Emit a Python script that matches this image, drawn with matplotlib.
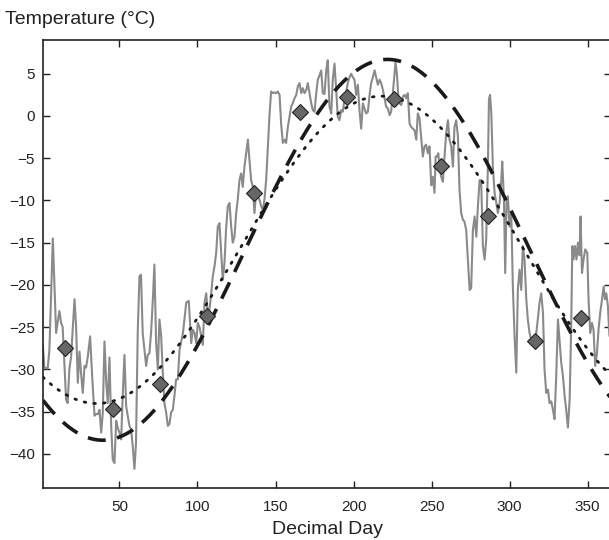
import numpy as np
import matplotlib
matplotlib.use("Agg")
import matplotlib.pyplot as plt

plt.rcParams['font.family'] = ['Liberation Sans', 'DejaVu Sans']

# Daily temperature
daily = [
(0.9,-27.1),(1.9,-29.8),(4.0,-29.9),(5.1,-27.7),(7.3,-14.5),(9.4,-25.7),(11.5,-23.1),(12.6,-24.5),
(13.6,-25.0),(15.8,-33.6),(16.8,-34.0),(17.9,-30.0),(19.0,-28.5),(21.2,-21.7),(22.2,-24.9),(23.3,-31.6),
(24.4,-27.9),(25.4,-30.5),(26.5,-32.8),(27.6,-29.6),(28.6,-29.8),(29.7,-28.5),(31.2,-26.1),(32.5,-30.8),
(34.0,-35.5),(35.1,-35.3),(36.2,-35.3),(37.2,-34.8),(38.3,-37.5),(39.3,-35.2),(40.4,-26.7),(41.5,-31.5),
(42.5,-34.0),(43.6,-28.6),(44.7,-36.7),(45.7,-40.7),(46.8,-41.1),(47.9,-36.1),(49.0,-37.0),(50.0,-37.5),
(51.1,-38.3),(52.1,-33.0),(53.2,-28.3),(54.3,-34.4),(55.3,-35.5),(56.4,-36.7),(57.5,-37.2),(58.5,-39.1),
(59.6,-41.8),(60.6,-38.7),(61.7,-25.7),(62.8,-19.0),(63.8,-18.8),(64.9,-25.7),(66.0,-27.7),(67.1,-29.6),
(68.1,-28.3),(69.2,-28.1),(70.3,-25.5),(71.4,-21.7),(72.4,-17.6),(73.5,-26.9),(74.6,-30.0),(75.6,-24.1),
(76.7,-26.0),(77.8,-30.5),(78.8,-34.0),(79.9,-35.1),(81.0,-36.7),(82.0,-36.5),(83.1,-35.1),(84.2,-34.8),
(85.3,-33.0),(86.3,-31.2),(87.4,-31.2),(88.5,-27.7),(90.7,-25.7),(92.8,-22.1),(94.4,-21.9),(96.0,-26.9),
(97.0,-25.3),(98.1,-25.7),(99.2,-26.9),(100.2,-24.5),(101.3,-25.0),(103.4,-27.1),(104.5,-22.1),(105.6,-21.0),
(106.6,-23.5),(107.7,-22.9),(108.8,-21.0),(109.8,-19.0),(110.9,-17.8),(112.0,-16.2),(113.0,-13.1),(114.1,-12.7),
(115.2,-16.2),(116.2,-19.4),(117.3,-17.4),(118.3,-13.5),(119.4,-10.7),(120.5,-10.3),(121.6,-13.1),(122.6,-15.0),
(123.7,-14.3),(124.8,-11.5),(125.8,-9.9),(126.9,-7.6),(128.0,-6.8),(129.0,-8.4),(130.1,-6.0),(131.2,-4.4),
(132.3,-2.8),(133.3,-5.2),(134.4,-7.6),(135.5,-8.4),(136.5,-11.5),(137.6,-9.1),(138.6,-9.5),(139.7,-9.9),
(140.8,-10.7),(141.9,-11.1),(142.9,-9.9),(144.0,-7.6),(145.1,-3.6),(146.2,0.3),(147.2,2.9),(148.3,2.7),
(149.4,2.8),(150.4,2.7),(151.5,2.9),(152.6,2.5),(153.6,-0.9),(154.7,-3.2),(155.8,-2.8),(156.8,-3.2),
(157.9,-1.3),(159.0,-0.1),(160.0,1.1),(161.0,1.5),(162.2,2.1),(163.3,2.5),(164.3,3.5),(165.4,3.9),
(166.5,2.7),(167.5,3.3),(168.6,2.7),(169.7,3.1),(170.7,3.9),(171.8,2.7),(172.9,1.5),(173.9,0.7),
(175.0,0.5),(176.0,2.5),(177.1,4.3),(178.2,4.8),(179.3,5.4),(180.3,2.7),(181.4,2.6),(182.5,5.4),
(183.5,6.6),(184.6,1.1),(185.7,0.3),(186.7,4.3),(187.8,6.2),(188.9,3.1),(189.9,-0.1),(191.0,-0.5),
(192.1,0.7),(193.1,0.5),(194.2,1.9),(195.3,2.8),(196.3,3.9),(197.4,4.6),(198.5,5.0),(199.5,4.6),
(200.6,4.3),(201.7,2.5),(202.8,3.7),(203.8,0.7),(204.9,-1.5),(206.0,1.5),(207.0,0.9),(208.1,0.3),
(209.2,0.5),(210.3,2.5),(211.3,3.9),(212.4,4.6),(213.5,5.4),(214.5,4.6),(215.6,3.7),(216.7,4.3),
(217.7,3.9),(218.8,3.1),(219.9,2.1),(220.9,1.1),(222.0,0.9),(223.1,0.1),(224.1,0.5),(225.2,2.7),
(226.3,5.0),(226.9,6.4),(227.8,5.0),(228.7,2.3),(229.5,1.5),(230.6,1.3),(231.6,2.3),(232.7,2.5),
(233.7,2.1),(234.8,2.7),(235.9,-0.9),(237.0,-1.3),(238.0,-1.5),(239.1,-1.7),(240.2,-2.8),(241.2,0.3),
(242.3,-0.3),(243.4,-2.6),(244.4,-4.8),(245.5,-3.6),(246.5,-3.4),(247.6,-4.4),(248.7,-3.6),(249.8,-8.2),
(250.8,-7.2),(251.9,-9.1),(252.6,-4.8),(253.5,-4.8),(254.3,-4.4),(255.1,-6.0),(256.2,-7.2),(257.3,-7.8),
(258.3,-4.8),(259.4,-2.0),(260.5,-0.5),(261.5,-2.8),(262.6,-3.6),(263.7,-6.0),(264.7,-1.3),(265.8,-0.5),
(266.9,-2.4),(267.9,-8.7),(269.0,-11.5),(270.1,-12.3),(271.1,-12.5),(272.2,-13.5),(273.3,-17.0),(274.4,-20.6),
(275.4,-20.4),(276.5,-13.5),(277.6,-11.9),(278.7,-14.3),(279.7,-10.7),(280.8,-7.6),(281.8,-7.6),(282.9,-15.4),
(284.0,-17.0),(285.0,-14.7),(286.1,-6.0),(286.8,2.0),(287.5,2.5),(288.3,0.3),(289.3,-6.0),(290.4,-9.1),
(291.5,-10.3),(292.5,-11.5),(293.6,-10.3),(294.7,-7.6),(295.3,-5.4),(296.4,-9.9),(297.2,-18.6),(298.1,-9.9),
(298.9,-9.5),(300.0,-13.1),(301.1,-11.5),(302.1,-20.2),(303.2,-26.1),(304.3,-30.4),(305.3,-20.6),(306.4,-18.2),
(307.5,-20.6),(308.5,-15.4),(309.6,-17.0),(310.7,-21.7),(311.7,-24.1),(312.8,-25.7),(313.9,-26.5),(314.9,-26.8),
(316.0,-26.5),(317.1,-25.7),(318.1,-24.1),(319.2,-22.1),(320.3,-21.0),(321.4,-23.3),(322.4,-30.0),(323.5,-32.8),
(324.6,-32.4),(325.6,-34.0),(326.7,-33.8),(327.8,-34.8),(328.8,-35.9),(329.9,-30.8),(331.0,-24.1),(332.0,-26.5),
(333.1,-29.2),(334.2,-30.8),(335.3,-33.2),(336.3,-34.8),(337.4,-36.9),(338.5,-33.6),(339.5,-24.9),(340.2,-15.4),
(341.0,-17.0),(341.9,-15.4),(342.9,-17.0),(343.8,-15.0),(344.8,-16.5),(345.5,-11.9),(346.4,-18.6),(347.4,-17.0),
(348.5,-15.8),(349.8,-16.2),(350.6,-21.7),(351.7,-25.7),(352.8,-24.5),(353.8,-25.3),(354.9,-29.6),(356.0,-28.1),
(357.0,-25.3),(358.1,-23.3),(359.2,-21.7),(360.3,-20.2),(361.1,-21.7),(362.0,-21.0),(363.0,-22.5),(364.0,-26.0),
]
daily_days = [d for d, _ in daily]
daily_temp = [t for _, t in daily]

# Monthly means (diamonds)
month_days = [15, 46, 76, 106, 136, 166, 196, 226, 256, 286, 316, 346]
month_temp = [-27.5, -34.7, -31.7, -23.7, -9.1, 0.5, 2.3, 2.0, -5.9, -11.8, -26.7, -23.9]

# Sinusoidal model curves: mean, amplitude, day of maximum
dashed_mean, dashed_amp, dashed_peak = -15.85, 22.55, 221.8
dotted_mean, dotted_amp, dotted_peak = -15.85, 18.2, 218.0
period = 365.0

fig = plt.figure(figsize=(6.09, 5.40), dpi=100)
ax = fig.add_axes([43/609, 1-487.5/540, 568/609, (487.5-40)/540])

ax.plot(daily_days, daily_temp, color='#8a8a8a', lw=1.5, zorder=2)

cd = np.linspace(1, 365, 400)
ax.plot(cd, dashed_mean + dashed_amp*np.cos(2*np.pi*(cd-dashed_peak)/period),
        color='#1a1a1a', lw=2.6, dashes=(5, 3.2), zorder=3)
ax.plot(cd, dotted_mean + dotted_amp*np.cos(2*np.pi*(cd-dotted_peak)/period),
        color='#1a1a1a', lw=2.0, dashes=(0.6, 2.9), dash_capstyle='round', zorder=3)

ax.plot(month_days, month_temp, linestyle='none', marker='D', markersize=8.5,
        markerfacecolor='#666666', markeredgecolor='#222222', markeredgewidth=0.8, zorder=4)

ax.set_xlim(1, 365)
ax.set_ylim(-44, 9)
ax.set_xticks([50, 100, 150, 200, 250, 300, 350])
ax.set_yticks([5, 0, -5, -10, -15, -20, -25, -30, -35, -40])
ax.tick_params(direction='in', length=5, width=1.0, top=True, right=True,
               labelsize=11, colors='#222222', pad=6)
ax.tick_params(axis='x', pad=9)
for s in ax.spines.values():
    s.set_linewidth(1.2)
    s.set_color('#222222')

ax.set_xlabel('Decimal Day', fontsize=14, color='#222222', labelpad=5)
fig.text(5/609, 1-19/540, 'Temperature (\u00b0C)', fontsize=14, color='#222222',
         ha='left', va='center')

fig.savefig('out.png', dpi=100)
